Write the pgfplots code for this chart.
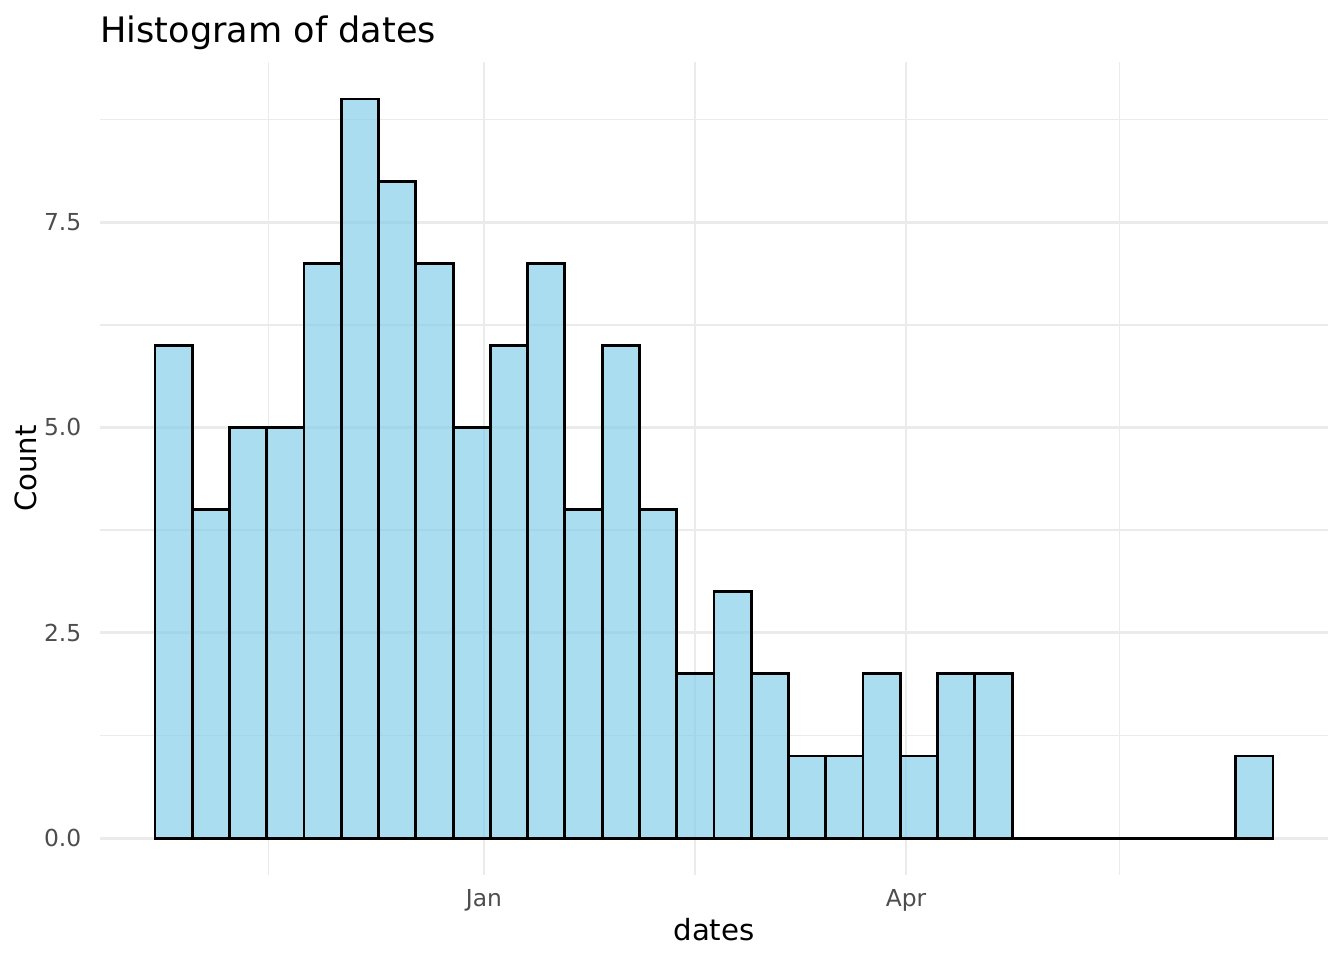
\documentclass[border=0pt]{standalone}
\usepackage{fontspec}
\setmainfont{DejaVu Sans}
\usepackage{pgfplots}
\pgfplotsset{compat=1.18}
\definecolor{skyb}{HTML}{87CEEB}
\definecolor{gridc}{HTML}{EBEBEB}
\definecolor{tickc}{HTML}{4D4D4D}
\begin{document}
\begin{tikzpicture}
\begin{axis}[
  name=ax,
  at={(0,0)}, anchor=south west,
  scale only axis,
  width=460.5bp, height=304.9bp,
  xmin=-81.9, xmax=180.0,
  ymin=-0.45, ymax=9.45,
  axis x line*=bottom, axis y line*=left,
  axis line style={draw=none},
  tick style={draw=none},
  major tick length=0pt, minor tick length=0pt,
  xtick={0,90}, xticklabels={Jan,Apr},
  minor xtick={-46,45,135.5},
  ytick={0,2.5,5,7.5},
  yticklabels={0.0,2.5,5.0,7.5},
  minor ytick={1.25,3.75,6.25,8.75},
  grid=both,
  major grid style={color=gridc, line width=1.07pt},
  minor grid style={color=gridc, line width=0.53pt},
  ticklabel style={font=\fontsize{8.8}{10}\selectfont, text=tickc},
  xticklabel style={yshift=-2bp},
  yticklabel style={xshift=-3.5bp},
  xlabel={dates}, ylabel={Count},
  label style={font=\fontsize{11}{13}\selectfont},
  xlabel style={yshift=4.5bp},
  ylabel style={yshift=-4bp},
  clip=false,
]
\addplot[ybar, bar width=7.948, draw=black, line width=1.07pt, fill=skyb, fill opacity=0.7, draw opacity=1]
coordinates {
(-66.20,6) (-58.25,4) (-50.30,5) (-42.35,5) (-34.41,7) (-26.46,9)
(-18.51,8) (-10.56,7) (-2.62,5) (5.33,6) (13.28,7) (21.23,4)
(29.18,6) (37.12,4) (45.07,2) (53.02,3) (60.97,2) (68.92,1)
(76.86,1) (84.81,2) (92.76,1) (100.71,2) (108.66,2) (116.60,0)
(124.55,0) (132.50,0) (140.45,0) (148.40,0) (156.34,0) (164.29,1)
};
\end{axis}
\node[anchor=base west, font=\fontsize{13.2}{15}\selectfont, inner sep=0pt] at ([yshift=7.3bp]ax.north west) {Histogram of dates};
\pgfresetboundingbox
\useasboundingbox ([xshift=-37.5bp,yshift=-31.875bp]ax.south west) rectangle ([xshift=6bp,yshift=23.25bp]ax.north east);
\end{tikzpicture}
\end{document}
